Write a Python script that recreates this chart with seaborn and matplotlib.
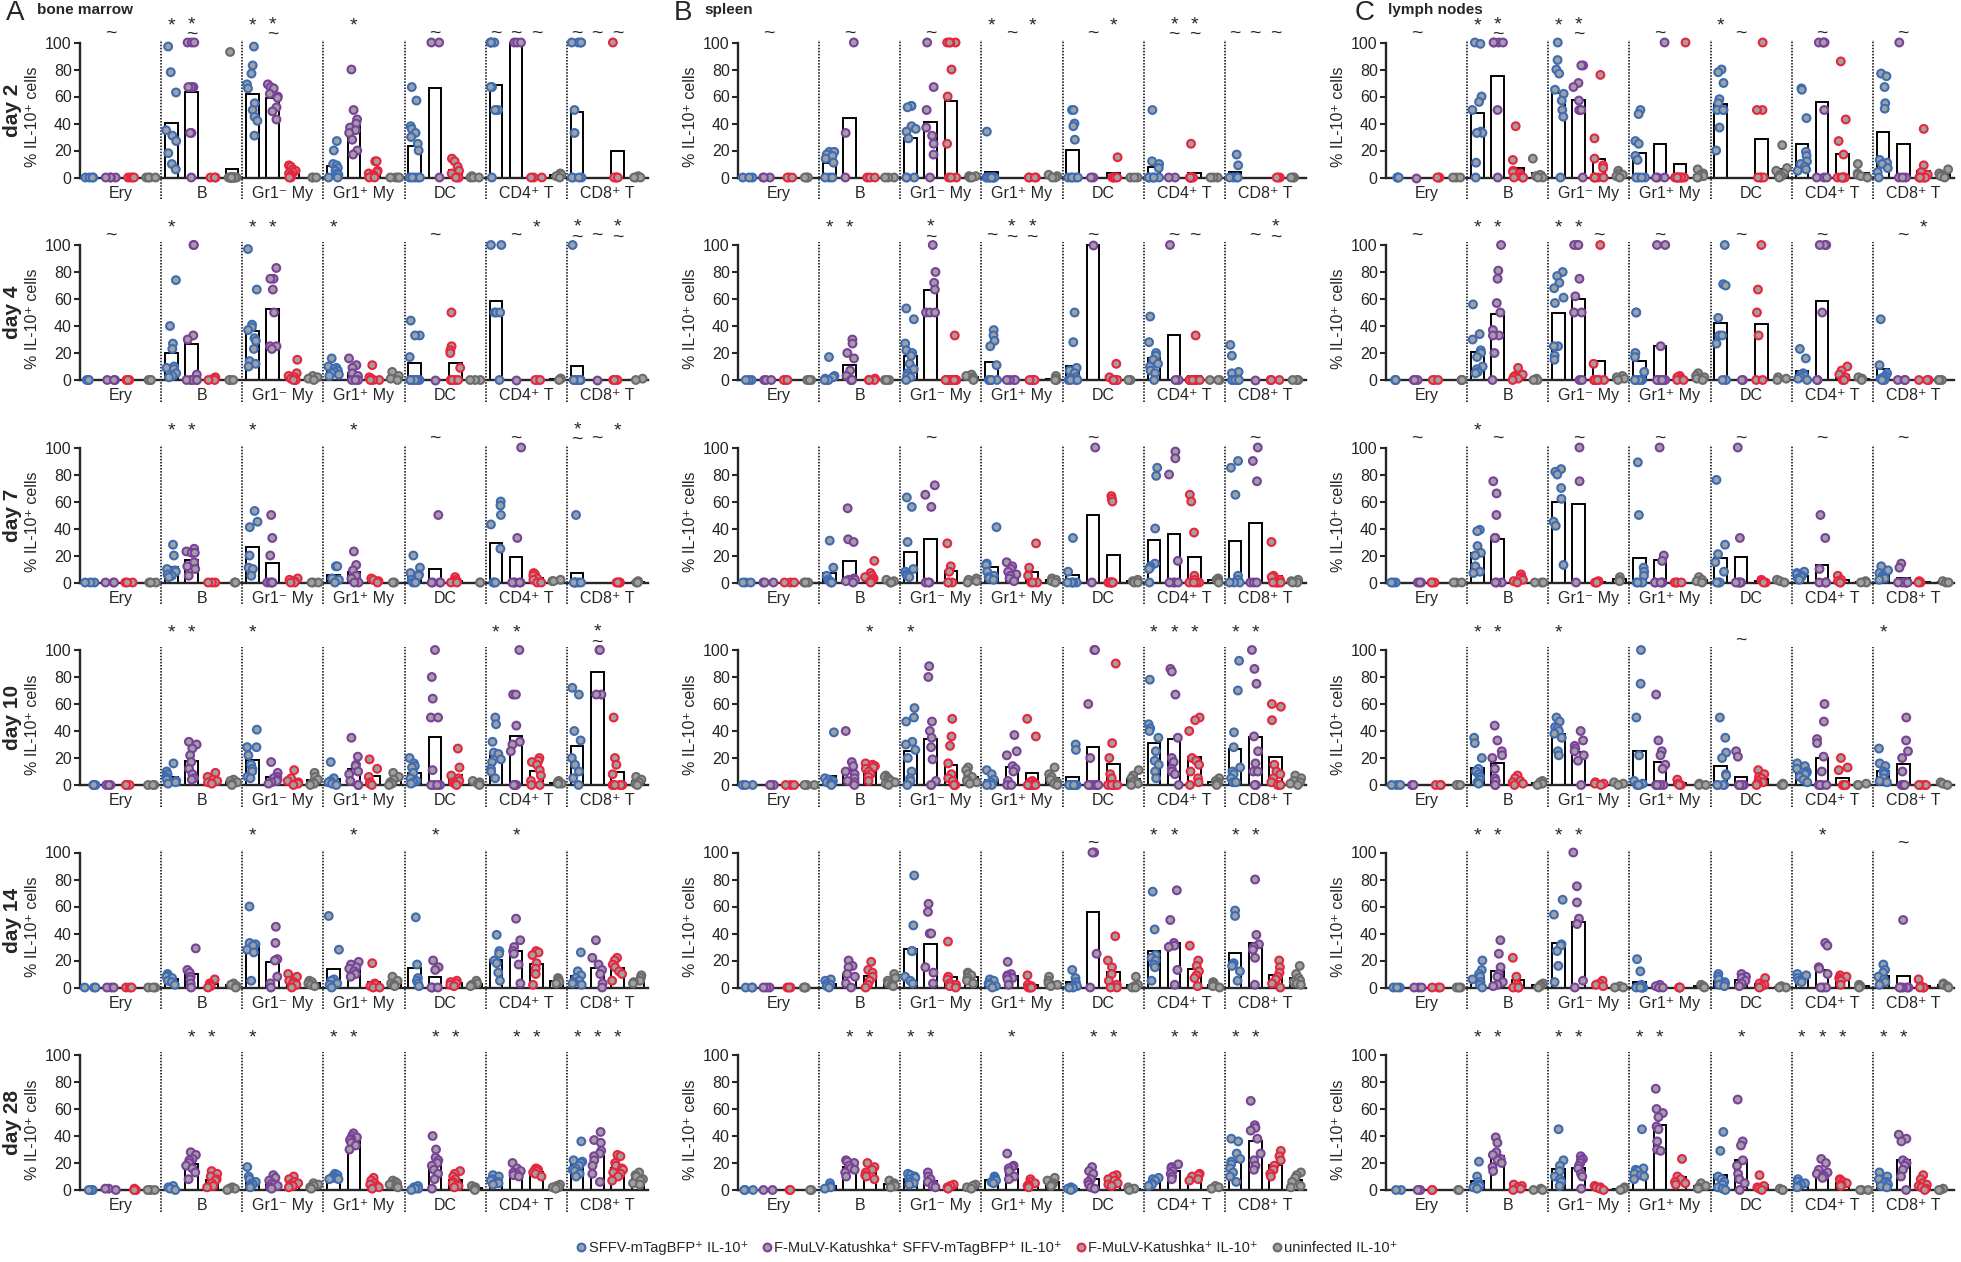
import numpy as np
import pandas as pd
import matplotlib
matplotlib.use('Agg')
import matplotlib.pyplot as plt
from matplotlib.lines import Line2D
import seaborn as sns

# ---- data (percent IL-10+ cells, one value per mouse) ----
# each cell type: (SFFV+, F-MuLV+ SFFV+, F-MuLV+, uninfected)
ery0 = ([0, 0, 0], [0, 0, 0], [0, 0, 0], [0, 0, 0])

bm_d2 = {
    'Ery': ([0, 0, 0, 0], [0, 0, 0, 0], [0, 0, 0, 0], [0, 0, 0, 0]),
    'B': ([97, 78, 63, 35, 31, 27, 18, 10, 6], [100, 100, 100, 67, 67, 67, 33, 33, 0], [0, 0, 0], [93, 0, 0, 0, 0, 0, 0, 0, 0, 0, 0, 0, 0, 0, 0]),
    'Gr1-': ([97, 83, 77, 69, 66, 55, 50, 45, 42, 31], [69, 67, 66, 62, 60, 59, 52, 49, 43], [9, 8, 6, 5, 4, 3, 2, 1, 0, 0], [0, 0, 0]),
    'Gr1+': ([27, 20, 10, 9, 7, 5, 3, 2, 0, 0], [80, 50, 43, 40, 37, 35, 33, 28, 20, 17], [12, 12, 5, 4, 3, 2, 1, 0, 0], [0, 0, 0, 0]),
    'DC': ([67, 57, 38, 36, 33, 30, 25, 20, 0, 0, 0, 0, 0], [100, 100, 0], [14, 12, 8, 5, 3, 0, 0, 0], [1, 0, 0, 0]),
    'CD4': ([100, 100, 100, 100, 67, 67, 50, 50, 50, 0], [100, 100, 100], [0, 0, 0], [3, 2, 1, 0]),
    'CD8': ([100, 100, 100, 100, 50, 33, 0, 0, 0, 0], [], [100, 0, 0, 0, 0], [1, 0, 0, 0]),
}
bm_d4 = {
    'Ery': ery0,
    'B': ([74, 40, 27, 23, 10, 9, 8, 5, 3, 2], [100, 100, 33, 30, 4, 0, 0, 0, 0, 0], [2, 1, 0, 0], [0, 0, 0]),
    'Gr1-': ([97, 67, 41, 39, 37, 31, 29, 23, 14, 12, 10], [83, 75, 75, 67, 50, 25, 25, 23], [15, 5, 3, 2, 1, 0, 0], [3, 2, 1, 0]),
    'Gr1+': ([16, 10, 9, 8, 7, 6, 5, 4, 3], [16, 11, 9, 5, 3, 0, 0, 0], [11, 2, 1, 0, 0, 0], [6, 3, 1, 0]),
    'DC': ([44, 33, 33, 17, 0, 0, 0, 0, 0, 0], [0], [50, 25, 22, 20, 9, 0, 0, 0, 0, 0], [0, 0, 0]),
    'CD4': ([100, 100, 50, 50, 50, 0], [0], [0, 0, 0], [1, 1, 0]),
    'CD8': ([100, 0, 0, 0, 0, 0, 0, 0, 0, 0], [0], [0, 0, 0], [1, 0]),
}
bm_d7 = {
    'Ery': ery0,
    'B': ([28, 20, 10, 9, 8, 6, 5, 4], [25, 23, 22, 22, 15, 12, 10, 5], [0, 0, 0], [0, 0]),
    'Gr1-': ([53, 45, 41, 20, 11, 10, 5], [50, 33, 20, 0, 0, 0, 0], [3, 2, 1, 0, 0], [0, 0, 0]),
    'Gr1+': ([12, 12, 3, 2, 0], [23, 13, 9, 5, 3, 0, 0], [3, 2, 1, 0], [0, 0]),
    'DC': ([20, 11, 7, 6, 5, 2, 0, 0], [50, 0, 0, 0, 0], [4, 2, 1, 0, 0], [0, 0]),
    'CD4': ([60, 57, 50, 43, 25, 0, 0, 0], [100, 33, 0, 0, 0, 0, 0], [7, 6, 5, 3, 2, 0, 0], [2, 1, 1]),
    'CD8': ([50, 0, 0, 0, 0, 0, 0], [], [0, 0, 0, 0], [1, 0, 0]),
}
bm_d10 = {
    'Ery': ery0,
    'B': ([16, 10, 8, 6, 5, 4, 3, 2, 1], [32, 30, 27, 22, 17, 12, 8, 5, 4], [9, 6, 4, 3, 2, 1], [4, 3, 2, 1, 0]),
    'Gr1-': ([41, 28, 28, 22, 15, 12, 10, 6, 5], [17, 9, 6, 5, 4, 3, 2, 1], [11, 5, 3, 2, 1, 0], [9, 6, 4, 2, 1, 0]),
    'Gr1+': ([17, 5, 3, 2, 1, 0], [35, 21, 15, 14, 10, 8, 3, 0, 0], [19, 12, 6, 2, 1, 0], [9, 6, 4, 2, 1, 0]),
    'DC': ([20, 16, 14, 13, 9, 5, 3, 2, 1], [100, 80, 64, 50, 50, 11, 0, 0, 0, 0], [27, 13, 7, 5, 3, 2, 1, 0], [3, 2, 1, 0]),
    'CD4': ([50, 45, 32, 24, 23, 19, 17, 12, 10, 5], [100, 67, 67, 44, 32, 30, 25, 0, 0, 0], [20, 18, 17, 15, 11, 7, 3, 0, 0], [3, 2, 1, 1]),
    'CD8': ([72, 67, 40, 33, 20, 15, 10, 5, 0], [100, 100, 67, 67], [50, 20, 15, 8, 0, 0, 0, 0, 0, 0], [6, 4, 2, 1, 0]),
}
bm_d14 = {
    'Ery': ery0,
    'B': ([10, 9, 8, 7, 5, 4, 2], [29, 13, 11, 8, 6, 3, 0], [6, 3, 2, 1, 0], [3, 2, 1, 0]),
    'Gr1-': ([60, 33, 32, 31, 28, 26, 5], [45, 33, 21, 20, 8, 3, 0], [10, 8, 5, 4, 3, 2, 0], [5, 4, 3, 2, 1]),
    'Gr1+': ([53, 28, 6, 5, 3, 2, 0], [19, 17, 15, 14, 12, 10, 8], [18, 3, 2, 1, 0, 0], [8, 5, 3, 2, 1]),
    'DC': ([52, 17, 7, 5, 3, 1], [20, 15, 13, 0, 0, 0], [5, 4, 3, 2, 1], [5, 3, 2, 1]),
    'CD4': ([39, 27, 25, 20, 18, 11, 5], [51, 35, 30, 27, 25, 17, 3], [27, 26, 24, 18, 14, 10, 2], [7, 6, 5, 4, 3]),
    'CD8': ([26, 12, 9, 7, 5, 4, 3, 2], [35, 22, 17, 13, 10, 3, 0], [22, 20, 17, 15, 12, 10, 5], [9, 7, 5, 4, 3]),
}
bm_d28 = {
    'Ery': ([0, 0, 0], [1, 1, 0], [1, 0, 0], [0, 0, 0]),
    'B': ([3, 2, 1, 0], [28, 26, 23, 22, 20, 18, 16, 13, 8], [14, 12, 10, 8, 7, 5, 3, 2], [2, 1, 1, 0]),
    'Gr1-': ([17, 10, 8, 6, 5, 4, 3, 2], [11, 9, 7, 5, 4, 3, 2, 1], [10, 8, 6, 5, 4, 3, 2], [5, 4, 3, 2, 1]),
    'Gr1+': ([12, 11, 10, 9, 9, 8, 8], [42, 40, 39, 38, 37, 35, 33, 30], [9, 7, 5, 4, 3, 2, 1], [7, 6, 5, 4, 3, 2]),
    'DC': ([3, 2, 1, 1, 0], [40, 30, 24, 22, 20, 18, 15, 12, 8, 1], [14, 12, 10, 8, 6, 5, 4, 3, 2], [3, 2, 1, 0]),
    'CD4': ([11, 10, 8, 7, 6, 5, 4], [20, 16, 14, 13, 12, 11, 10], [16, 15, 15, 14, 13, 12, 10], [4, 3, 2, 2, 1]),
    'CD8': ([36, 22, 21, 20, 18, 16, 15, 14, 12, 10], [43, 37, 35, 29, 27, 25, 22, 18, 12, 6], [26, 25, 20, 18, 16, 15, 13, 12, 10, 7], [13, 11, 10, 8, 7, 5, 4]),
}

sp_d2 = {
    'Ery': ery0,
    'B': ([19, 19, 17, 16, 14, 11, 0, 0, 0], [100, 33, 0], [0, 0, 0], [0, 0, 0]),
    'Gr1-': ([53, 53, 52, 38, 36, 34, 29, 0, 0, 0], [100, 67, 50, 37, 31, 25, 17, 0], [100, 100, 100, 100, 80, 60, 25, 0, 0, 0], [1, 1, 0, 0]),
    'Gr1+': ([34, 0, 0, 0, 0, 0, 0, 0, 0], [], [0, 0, 0, 0], [2, 1, 0, 0]),
    'DC': ([50, 50, 40, 38, 28, 0, 0, 0, 0, 0], [0, 0], [15, 0, 0, 0, 0], [0, 0, 0]),
    'CD4': ([50, 12, 10, 7, 0, 0, 0, 0, 0, 0], [0, 0], [25, 0, 0, 0, 0, 0, 0, 0], [0, 0, 0]),
    'CD8': ([17, 9, 0, 0, 0, 0], [], [0, 0, 0], [0, 0, 0]),
}
sp_d4 = {
    'Ery': ery0,
    'B': ([17, 3, 2, 1, 0, 0, 0], [30, 27, 20, 16, 7, 3, 0, 0, 0], [1, 0, 0, 0], [0, 0, 0]),
    'Gr1-': ([53, 45, 27, 22, 20, 18, 12, 8, 5, 3, 2, 0], [100, 80, 72, 67, 50, 50, 50], [33, 0, 0, 0, 0, 0, 0, 0, 0, 0, 0], [4, 3, 2, 1, 0]),
    'Gr1+': ([37, 33, 29, 25, 11, 0, 0, 0, 0, 0], [0, 0, 0, 0], [0, 0, 0, 0], [3, 1, 0, 0]),
    'DC': ([50, 28, 9, 7, 5, 2, 0, 0, 0, 0], [100], [12, 2, 0, 0, 0, 0], [0, 0, 0]),
    'CD4': ([47, 28, 20, 18, 15, 12, 10, 7, 5, 0], [100, 0, 0], [33, 0, 0, 0, 0, 0, 0, 0, 0, 0, 0], [0, 0, 0]),
    'CD8': ([26, 18, 6, 5, 0, 0, 0, 0, 0], [0], [0, 0, 0, 0], [0, 0, 0]),
}
sp_d7 = {
    'Ery': ery0,
    'B': ([31, 11, 5, 2, 1, 0, 0], [55, 32, 30, 3, 2, 2, 1, 0], [16, 7, 5, 4, 3, 2, 1, 0], [2, 1, 0, 0]),
    'Gr1-': ([63, 56, 30, 10, 8, 6, 5, 4], [72, 65, 56, 0, 0, 0], [29, 12, 8, 0, 0, 0], [3, 2, 1, 0]),
    'Gr1+': ([41, 14, 13, 8, 5, 4, 3, 2], [15, 12, 10, 8, 6, 5, 3, 1], [29, 11, 5, 0, 0, 0], [3, 2, 1, 0]),
    'DC': ([33, 8, 0, 0, 0, 0, 0], [100, 0], [64, 62, 60, 0, 0, 0, 0, 0, 0], [2, 1, 0, 0]),
    'CD4': ([85, 79, 40, 14, 12, 11, 10, 0], [97, 92, 80, 16, 0, 0, 0, 0], [65, 60, 37, 5, 2, 0, 0, 0, 0], [3, 2, 1, 0]),
    'CD8': ([90, 85, 65, 5, 2, 0, 0, 0], [100, 90, 75, 0, 0, 0], [30, 5, 4, 2, 0, 0, 0, 0, 0], [2, 1, 0, 0]),
}
sp_d10 = {
    'Ery': ery0,
    'B': ([39, 5, 4, 3, 2, 1, 1, 0], [40, 17, 14, 10, 8, 5, 3, 2, 0], [16, 15, 14, 13, 12, 10, 8, 6, 3], [7, 6, 5, 4, 3, 2, 1, 0]),
    'Gr1-': ([57, 50, 47, 32, 30, 26, 20, 10, 5, 3, 0], [88, 80, 47, 40, 35, 28, 19, 3, 0, 0], [49, 36, 29, 16, 8, 5, 3, 0, 0, 0], [13, 11, 8, 6, 4, 3, 2, 1]),
    'Gr1+': ([11, 8, 4, 2, 1, 0, 0], [37, 25, 22, 14, 12, 10, 3, 0, 0], [49, 36, 3, 2, 1, 0, 0, 0, 0, 0], [13, 8, 6, 4, 2, 1, 0]),
    'DC': ([30, 26, 0, 0, 0, 0, 0, 0, 0, 0], [100, 100, 60, 20, 0, 0, 0, 0, 0, 0], [90, 31, 20, 8, 5, 0, 0, 0, 0, 0], [11, 7, 5, 3, 2, 1, 0]),
    'CD4': ([78, 45, 42, 40, 35, 25, 18, 15, 10, 5], [86, 84, 67, 35, 20, 17, 12, 10, 8, 0], [50, 48, 40, 20, 18, 15, 10, 5, 2, 0], [5, 3, 2, 1, 0]),
    'CD8': ([92, 70, 39, 28, 13, 10, 8, 5, 2, 2], [100, 86, 75, 36, 25, 16, 10, 10, 0, 0], [60, 58, 48, 15, 10, 8, 5, 2, 0, 0], [7, 5, 3, 2, 1, 0]),
}
sp_d14 = {
    'Ery': ery0,
    'B': ([6, 5, 3, 2, 1, 0], [20, 16, 15, 10, 8, 3, 0], [19, 13, 11, 8, 5, 2, 0], [10, 7, 5, 3, 2, 1]),
    'Gr1-': ([83, 46, 27, 27, 8, 5, 3], [62, 56, 40, 40, 15, 11, 3], [34, 8, 6, 3, 2, 1, 0], [11, 10, 9, 7, 5, 3]),
    'Gr1+': ([6, 5, 3, 2, 1, 0], [19, 10, 9, 8, 7, 6, 2], [9, 2, 1, 0, 0, 0], [8, 5, 3, 2, 1]),
    'DC': ([13, 7, 4, 2, 1, 0, 0], [100, 100, 25, 0], [38, 20, 15, 10, 5, 2, 0, 0], [8, 2, 1, 0, 0]),
    'CD4': ([71, 43, 24, 22, 20, 17, 15, 5], [72, 50, 33, 31, 30, 13, 2], [31, 20, 16, 12, 9, 7, 1], [4, 3, 2, 1, 0]),
    'CD8': ([57, 53, 18, 17, 16, 12, 5], [80, 39, 32, 30, 28, 22, 2], [20, 15, 11, 8, 6, 3, 0], [16, 10, 7, 5, 4, 3, 2]),
}
sp_d28 = {
    'Ery': ([0, 0, 0], [0, 0], [0, 0], [0, 0]),
    'B': ([5, 3, 2, 1], [22, 21, 20, 18, 16, 15, 13, 10], [20, 17, 15, 13, 11, 10, 8], [7, 5, 4, 3, 2]),
    'Gr1-': ([12, 11, 10, 9, 8, 6, 5, 4], [13, 10, 8, 6, 4, 3, 2], [4, 3, 2, 1], [4, 3, 2, 1]),
    'Gr1+': ([10, 9, 8, 7, 6, 5], [27, 18, 17, 16, 14, 10, 8], [8, 6, 5, 4, 3, 2], [9, 7, 5, 4, 3]),
    'DC': ([2, 1, 1, 0], [17, 14, 12, 8, 6, 4, 2, 1], [11, 10, 8, 7, 5, 4, 3], [2, 1, 0]),
    'CD4': ([9, 8, 7, 5, 4, 3], [19, 17, 16, 14, 12, 10, 8], [12, 11, 10, 8, 7], [3, 2, 1]),
    'CD8': ([38, 36, 27, 23, 21, 19, 16, 13, 10, 6], [66, 48, 46, 44, 38, 27, 22, 18, 15], [29, 25, 22, 18, 15, 12, 10], [13, 11, 9, 6, 3, 2]),
}

ln_d2 = {
    'Ery': ([0, 0, 0], [0], [0, 0, 0], [0, 0, 0]),
    'B': ([100, 99, 60, 56, 50, 34, 33, 33, 11, 0], [100, 100, 100, 100, 50, 0], [38, 13, 5, 4, 3, 1, 0, 0, 0], [14, 2, 1, 0, 0]),
    'Gr1-': ([100, 87, 80, 77, 65, 62, 57, 50, 45, 0], [83, 83, 70, 67, 57, 50, 50, 0], [76, 29, 14, 9, 7, 0, 0, 0, 0, 0], [5, 3, 2, 1, 0]),
    'Gr1+': ([50, 47, 27, 25, 16, 13, 0, 0, 0, 0], [100, 0, 0, 0], [100, 0, 0, 0, 0, 0, 0, 0, 0, 0], [6, 3, 2, 1, 0, 0]),
    'DC': ([80, 78, 70, 58, 55, 50, 50, 50, 37, 20], [], [100, 50, 50, 0, 0, 0, 0], [24, 7, 5, 3, 2, 1, 0]),
    'CD4': ([66, 65, 44, 19, 16, 12, 10, 8, 6, 5], [100, 100, 100, 100, 50, 0, 0, 0], [86, 43, 27, 17, 0, 0, 0, 0, 0, 0], [10, 3, 2, 1, 0]),
    'CD8': ([77, 75, 67, 55, 51, 13, 11, 10, 7, 4, 0], [100, 0, 0, 0], [36, 9, 4, 2, 0, 0, 0, 0, 0, 0], [6, 3, 2, 1, 0]),
}
ln_d4 = {
    'Ery': ery0,
    'B': ([56, 34, 30, 22, 20, 17, 10, 8, 6, 5], [100, 81, 75, 57, 50, 37, 33, 33, 20, 0], [9, 4, 3, 2, 1, 0], [1, 0, 0]),
    'Gr1-': ([80, 77, 72, 68, 61, 57, 25, 25, 18, 15], [100, 100, 100, 75, 62, 50, 50, 0, 0], [100, 12, 0, 0, 0, 0, 0, 0], [3, 2, 1, 0]),
    'Gr1+': ([50, 50, 20, 17, 6, 0, 0, 0, 0, 0], [100, 100, 25, 0, 0, 0, 0, 0, 0], [3, 2, 1, 0, 0], [5, 3, 2, 1, 0]),
    'DC': ([100, 71, 70, 46, 33, 33, 27, 0, 0], [0, 0], [100, 67, 50, 33, 0, 0], [2, 1, 0]),
    'CD4': ([23, 16, 5, 4, 3, 2, 1, 0], [100, 100, 100, 50, 0, 0], [10, 7, 4, 2, 0, 0], [2, 1, 0]),
    'CD8': ([45, 11, 5, 3, 2, 1, 0, 0], [0, 0, 0], [0, 0, 0], [0, 0, 0]),
}
ln_d7 = {
    'Ery': ery0,
    'B': ([39, 38, 27, 22, 20, 12, 8, 7], [75, 66, 50, 33, 33, 0, 0, 0], [6, 4, 3, 2, 1, 0], [0, 0, 0]),
    'Gr1-': ([84, 82, 80, 70, 62, 45, 42, 13], [100, 75, 0], [1, 0, 0, 0], [4, 2, 1]),
    'Gr1+': ([89, 50, 11, 8, 5, 0, 0, 0, 0], [100, 20, 16, 0, 0, 0, 0, 0], [0, 0, 0, 0], [4, 2, 1, 0]),
    'DC': ([76, 28, 21, 15, 8, 0, 0, 0], [100, 33, 0, 0, 0, 0, 0], [2, 1, 0, 0], [2, 1, 0]),
    'CD4': ([8, 7, 6, 5, 4, 3, 2], [50, 33, 10, 0, 0, 0, 0], [5, 2, 1, 0, 0], [1, 0, 0]),
    'CD8': ([12, 9, 7, 5, 4, 3, 2], [14, 11, 0, 0, 0, 0, 0, 0], [1, 0, 0], [1, 0, 0]),
}
ln_d10 = {
    'Ery': ery0,
    'B': ([35, 31, 20, 12, 10, 8, 6, 4, 2, 1], [44, 33, 25, 22, 20, 12, 5, 3, 0, 0], [7, 5, 3, 2, 1, 0], [3, 2, 1, 0]),
    'Gr1-': ([50, 47, 43, 42, 40, 38, 35, 25, 22], [40, 33, 29, 27, 25, 22, 18, 0], [2, 1, 1, 0], [2, 1, 0]),
    'Gr1+': ([100, 75, 50, 22, 3, 1, 0, 0, 0, 0], [67, 33, 25, 22, 15, 12, 0, 0, 0, 0], [4, 1, 0, 0], [1, 0, 0]),
    'DC': ([50, 35, 24, 20, 8, 7, 0, 0, 0, 0], [25, 21, 0, 0, 0, 0, 0, 0], [11, 8, 6, 5, 3, 2, 1, 0], [1, 0, 0]),
    'CD4': ([16, 14, 12, 10, 9, 8, 6, 4, 2], [60, 47, 34, 31, 21, 10, 0, 0, 0, 0], [20, 13, 11, 0, 0, 0, 0, 0], [1, 0, 0]),
    'CD8': ([27, 16, 14, 10, 9, 8, 5, 3, 2], [50, 33, 25, 20, 10, 0, 0, 0, 0], [0, 0, 0, 0], [2, 1, 0]),
}
ln_d14 = {
    'Ery': ery0,
    'B': ([20, 13, 10, 8, 6, 4, 2, 0], [35, 25, 15, 10, 8, 4, 2, 1], [22, 8, 2, 0, 0, 0], [3, 2, 1, 0]),
    'Gr1-': ([65, 54, 32, 31, 27, 16, 4], [100, 75, 63, 51, 47, 5, 0], [5, 3, 2, 1], [1, 0, 0]),
    'Gr1+': ([21, 12, 2, 1, 0, 0, 0, 0, 0], [2, 1, 0, 0], [0, 0, 0], [2, 1, 0]),
    'DC': ([10, 8, 6, 4, 3, 2, 1], [10, 8, 7, 5, 3, 1], [7, 3, 2, 1, 0], [1, 0, 0]),
    'CD4': ([10, 9, 7, 5, 4], [33, 31, 15, 14, 10, 0, 0, 0], [9, 8, 7, 6, 5, 2], [2, 1, 0]),
    'CD8': ([17, 13, 11, 8, 6, 4, 2], [50, 0, 0, 0, 0, 0], [6, 1, 0, 0, 0], [3, 2, 1, 0]),
}
ln_d28 = {
    'Ery': ([0, 0], [0, 0], [0, 0], [0, 0]),
    'B': ([21, 10, 6, 4, 3, 2, 1], [39, 35, 28, 26, 23, 22, 20, 17, 14], [4, 3, 2, 1, 0], [1, 0, 0]),
    'Gr1-': ([45, 22, 18, 14, 10, 8, 6, 3], [25, 23, 22, 20, 18, 16, 12, 10, 1], [3, 2, 2, 1, 0], [2, 1, 0]),
    'Gr1+': ([45, 16, 15, 14, 12, 11, 10, 8], [75, 60, 57, 54, 47, 45, 36, 30, 29], [23, 10, 8, 6, 5, 4], [5, 3, 2, 1]),
    'DC': ([43, 29, 10, 8, 6, 4, 2, 1, 0], [67, 36, 33, 22, 18, 12, 8, 5, 0], [11, 3, 2, 1, 0], [1, 0, 0]),
    'CD4': ([8, 6, 5, 4, 3, 2], [23, 20, 15, 13, 12, 11, 10, 9], [8, 7, 6, 5, 4, 3], [0, 0, 0]),
    'CD8': ([13, 10, 8, 6, 5, 4, 3, 2], [41, 38, 36, 22, 20, 18, 15, 10, 0], [11, 8, 5, 4, 3, 2, 1, 0], [1, 0, 0]),
}

# significance marks: (cell, group, marks)
bm_d2_sig = [('Ery', 'p', '~'), ('B', 'b', '*'), ('B', 'p', '*~'), ('Gr1-', 'b', '*'), ('Gr1-', 'p', '*~'),
             ('Gr1+', 'p', '*'), ('DC', 'p', '~'), ('CD4', 'b', '~'), ('CD4', 'p', '~'), ('CD4', 'r', '~'),
             ('CD8', 'b', '~'), ('CD8', 'p', '~'), ('CD8', 'r', '~')]
bm_d4_sig = [('Ery', 'p', '~'), ('B', 'b', '*'), ('Gr1-', 'b', '*'), ('Gr1-', 'p', '*'), ('Gr1+', 'b', '*'),
             ('DC', 'p', '~'), ('CD4', 'p', '~'), ('CD4', 'r', '*'), ('CD8', 'b', '*~'), ('CD8', 'p', '~'),
             ('CD8', 'r', '*~')]
bm_d7_sig = [('B', 'b', '*'), ('B', 'p', '*'), ('Gr1-', 'b', '*'), ('Gr1+', 'p', '*'), ('DC', 'p', '~'),
             ('CD4', 'p', '~'), ('CD8', 'b', '*~'), ('CD8', 'p', '~'), ('CD8', 'r', '*')]
bm_d10_sig = [('B', 'b', '*'), ('B', 'p', '*'), ('Gr1-', 'b', '*'), ('CD4', 'b', '*'), ('CD4', 'p', '*'),
              ('CD8', 'p', '*~')]
bm_d14_sig = [('Gr1-', 'b', '*'), ('Gr1+', 'p', '*'), ('DC', 'p', '*'), ('CD4', 'p', '*')]
bm_d28_sig = [('B', 'p', '*'), ('B', 'r', '*'), ('Gr1-', 'b', '*'), ('Gr1+', 'b', '*'), ('Gr1+', 'p', '*'),
              ('DC', 'p', '*'), ('DC', 'r', '*'), ('CD4', 'p', '*'), ('CD4', 'r', '*'), ('CD8', 'b', '*'),
              ('CD8', 'p', '*'), ('CD8', 'r', '*')]
sp_d2_sig = [('Ery', 'p', '~'), ('B', 'p', '~'), ('Gr1-', 'p', '~'), ('Gr1+', 'b', '*'), ('Gr1+', 'p', '~'),
             ('Gr1+', 'r', '*'), ('DC', 'p', '~'), ('DC', 'r', '*'), ('CD4', 'p', '*~'), ('CD4', 'r', '*~'),
             ('CD8', 'b', '~'), ('CD8', 'p', '~'), ('CD8', 'r', '~')]
sp_d4_sig = [('B', 'b', '*'), ('B', 'p', '*'), ('Gr1-', 'p', '*~'), ('Gr1+', 'b', '~'), ('Gr1+', 'p', '*~'),
             ('Gr1+', 'r', '*~'), ('DC', 'p', '~'), ('CD4', 'p', '~'), ('CD4', 'r', '~'), ('CD8', 'p', '~'),
             ('CD8', 'r', '*~')]
sp_d7_sig = [('Gr1-', 'p', '~'), ('DC', 'p', '~'), ('CD8', 'p', '~')]
sp_d10_sig = [('B', 'r', '*'), ('Gr1-', 'b', '*'), ('CD4', 'b', '*'), ('CD4', 'p', '*'), ('CD4', 'r', '*'),
              ('CD8', 'b', '*'), ('CD8', 'p', '*')]
sp_d14_sig = [('DC', 'p', '~'), ('CD4', 'b', '*'), ('CD4', 'p', '*'), ('CD8', 'b', '*'), ('CD8', 'p', '*')]
sp_d28_sig = [('B', 'p', '*'), ('B', 'r', '*'), ('Gr1-', 'b', '*'), ('Gr1-', 'p', '*'), ('Gr1+', 'p', '*'),
              ('DC', 'p', '*'), ('DC', 'r', '*'), ('CD4', 'p', '*'), ('CD4', 'r', '*'), ('CD8', 'b', '*'),
              ('CD8', 'p', '*')]
ln_d2_sig = [('Ery', 'p', '~'), ('B', 'b', '*'), ('B', 'p', '*~'), ('Gr1-', 'b', '*'), ('Gr1-', 'p', '*~'),
             ('Gr1+', 'p', '~'), ('DC', 'b', '*'), ('DC', 'p', '~'), ('CD4', 'p', '~'), ('CD8', 'p', '~')]
ln_d4_sig = [('Ery', 'p', '~'), ('B', 'b', '*'), ('B', 'p', '*'), ('Gr1-', 'b', '*'), ('Gr1-', 'p', '*'),
             ('Gr1-', 'r', '~'), ('Gr1+', 'p', '~'), ('DC', 'p', '~'), ('CD4', 'p', '~'), ('CD8', 'p', '~'),
             ('CD8', 'r', '*')]
ln_d7_sig = [('Ery', 'p', '~'), ('B', 'b', '*'), ('B', 'p', '~'), ('Gr1-', 'p', '~'), ('Gr1+', 'p', '~'),
             ('DC', 'p', '~'), ('CD4', 'p', '~'), ('CD8', 'p', '~')]
ln_d10_sig = [('B', 'b', '*'), ('B', 'p', '*'), ('Gr1-', 'b', '*'), ('DC', 'p', '~'), ('CD8', 'b', '*')]
ln_d14_sig = [('B', 'b', '*'), ('B', 'p', '*'), ('Gr1-', 'b', '*'), ('Gr1-', 'p', '*'), ('CD4', 'p', '*'),
              ('CD8', 'p', '~')]
ln_d28_sig = [('B', 'b', '*'), ('B', 'p', '*'), ('Gr1-', 'b', '*'), ('Gr1-', 'p', '*'), ('Gr1+', 'b', '*'),
              ('Gr1+', 'p', '*'), ('DC', 'p', '*'), ('CD4', 'b', '*'), ('CD4', 'p', '*'), ('CD4', 'r', '*'),
              ('CD8', 'b', '*'), ('CD8', 'p', '*')]

cells = ['Ery', 'B', 'Gr1-', 'Gr1+', 'DC', 'CD4', 'CD8']
cell_labels = ['Ery', 'B', 'Gr1⁻ My', 'Gr1⁺ My', 'DC', 'CD4⁺ T', 'CD8⁺ T']
groups = ['b', 'p', 'r', 'g']
group_labels = ['SFFV-mTagBFP⁺ IL-10⁺', 'F-MuLV-Katushka⁺ SFFV-mTagBFP⁺ IL-10⁺',
                'F-MuLV-Katushka⁺ IL-10⁺', 'uninfected IL-10⁺']
group_colors = ['#3c6cb4', '#7b3f9c', '#e8253d', '#6b6b6b']
days = ['day 2', 'day 4', 'day 7', 'day 10', 'day 14', 'day 28']
tissues = [('A', 'bone marrow'), ('B', 'spleen'), ('C', 'lymph nodes')]

panels = [[bm_d2, bm_d4, bm_d7, bm_d10, bm_d14, bm_d28],
          [sp_d2, sp_d4, sp_d7, sp_d10, sp_d14, sp_d28],
          [ln_d2, ln_d4, ln_d7, ln_d10, ln_d14, ln_d28]]
sigs = [[bm_d2_sig, bm_d4_sig, bm_d7_sig, bm_d10_sig, bm_d14_sig, bm_d28_sig],
        [sp_d2_sig, sp_d4_sig, sp_d7_sig, sp_d10_sig, sp_d14_sig, sp_d28_sig],
        [ln_d2_sig, ln_d4_sig, ln_d7_sig, ln_d10_sig, ln_d14_sig, ln_d28_sig]]

slots = [c + '|' + g for c in cells for g in groups]


def long_table(panel):
    rows = []
    for c in cells:
        for g, vals in zip(groups, panel[c]):
            for v in vals:
                rows.append((c + '|' + g, g, v))
    return pd.DataFrame(rows, columns=['slot', 'group', 'value'])


# ---- style ----
sns.set_style('ticks')
plt.rcParams['font.family'] = ['Liberation Sans', 'DejaVu Sans']

dot_face = '#a0a0a0'
W, H = 1961, 1262
fig = plt.figure(figsize=(W / 100, H / 100), dpi=100)

col_x = [80, 738, 1386]
ax_w = 568
ppu = 1.35          # pixels per % unit
y_lo, y_hi = -5, 120
np.random.seed(7)

for ci in range(3):
    for ri in range(6):
        y100 = 42.5 + 202.5 * ri
        top = y100 - (y_hi - 100) * ppu
        h = (y_hi - y_lo) * ppu
        ax = fig.add_axes([col_x[ci] / W, 1 - (top + h) / H, ax_w / W, h / H])
        df = long_table(panels[ci][ri])

        sns.barplot(data=df, x='slot', y='value', order=slots, estimator='mean', errorbar=None,
                    color='white', edgecolor='black', linewidth=1.4, width=0.62, ax=ax)
        n0 = len(ax.collections)
        sns.stripplot(data=df, x='slot', y='value', order=slots, hue='group', hue_order=groups,
                      palette=dict(zip(groups, group_colors)), jitter=0.27, size=5.6,
                      linewidth=0, legend=False, ax=ax)
        # grey filled dots with coloured rims
        for coll in ax.collections[n0:]:
            fc = coll.get_facecolors()
            coll.set_edgecolors(fc)
            coll.set_facecolor(dot_face)
            coll.set_linewidth(1.5)
            coll.set_zorder(3)

        ax.set_xlim(-0.5, len(slots) - 0.5)
        ax.set_ylim(y_lo, y_hi)
        sns.despine(ax=ax)
        ax.spines['left'].set_bounds(0, 100)
        ax.spines['bottom'].set_position(('data', 0))
        for s in ['left', 'bottom']:
            ax.spines[s].set_linewidth(1.7)
        ax.set_yticks(range(0, 101, 20))
        ax.set_xticks([1.5 + 4 * k for k in range(len(cells))], cell_labels)
        ax.tick_params(axis='x', length=0, pad=6, labelsize=11.5)
        ax.tick_params(axis='y', length=4, width=1.5, pad=2, labelsize=11.5)
        ax.set_xlabel('')
        ax.set_ylabel('% IL-10⁺ cells', fontsize=11.5)
        ax.yaxis.set_label_coords(-0.07, (45 - y_lo) / (y_hi - y_lo))

        ax.vlines([3.5 + 4 * k for k in range(len(cells) - 1)], -16, 102, colors='black',
                  linestyles=(0, (1, 1)), linewidth=1.1, clip_on=False)

        for cell, grp, mark in sigs[ci][ri]:
            xs = cells.index(cell) * 4 + groups.index(grp)
            if mark == '*~':
                ax.text(xs, 109.5, '*\n~', ha='center', va='center', fontsize=14,
                        linespacing=0.42, clip_on=False)
            elif mark == '*':
                ax.text(xs, 112.5, '*', ha='center', va='center', fontsize=14, clip_on=False)
            else:
                ax.text(xs, 107, '~', ha='center', va='center', fontsize=14, clip_on=False)

        if ci == 0:
            fig.text(13 / W, 1 - (y100 + 67.5) / H, days[ri], rotation=90, fontweight='bold',
                     fontsize=15, ha='center', va='center')

title_x = [(15, 37), (683, 704), (1365, 1388)]
for (letter, name), (lx, nx) in zip(tissues, title_x):
    fig.text(lx / W, 1 - 13 / H, letter, fontsize=20, ha='center', va='center')
    fig.text(nx / W, 1 - 10 / H, name, fontsize=11, fontweight='bold', ha='left', va='center')

handles = [Line2D([], [], linestyle='', marker='o', markersize=5.6, markerfacecolor=dot_face,
                  markeredgecolor=c, markeredgewidth=1.5) for c in group_colors]
fig.legend(handles, group_labels, loc='center', bbox_to_anchor=(0.503, 1 - 1248 / H), ncol=4,
           frameon=False, fontsize=10.5, handletextpad=0.1, columnspacing=0.9, handlelength=0.8)

fig.savefig('out.png', dpi=100)
